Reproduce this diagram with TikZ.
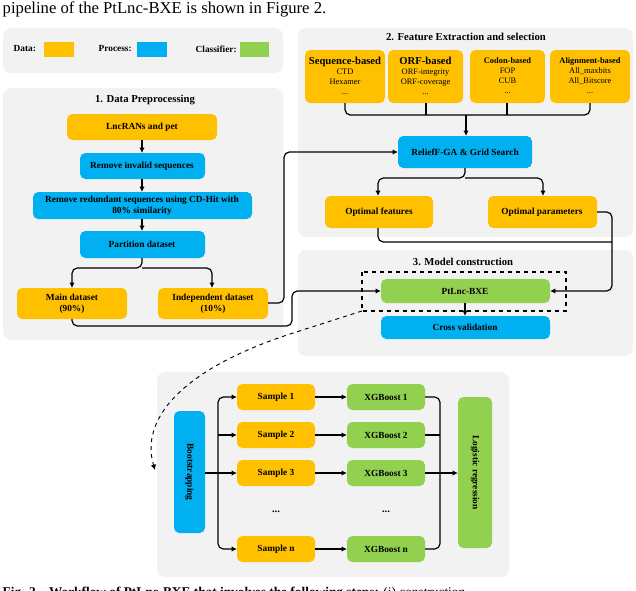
\documentclass[tikz,border=0pt]{standalone}
\usepackage{fontspec}
\setmainfont{Liberation Serif}
\usetikzlibrary{arrows.meta}
\definecolor{cor}{HTML}{FFC000}
\definecolor{cbl}{HTML}{00B0F0}
\definecolor{cgr}{HTML}{92D050}
\definecolor{cpan}{HTML}{F2F2F2}
\begin{document}
\begin{tikzpicture}[x=0.75pt,y=-0.75pt,
 pan/.style={fill=cpan,draw=none,rounded corners=6pt},
 bx/.style={draw=none,rounded corners=4pt,align=center,font=\fontsize{7}{8}\selectfont\bfseries},
 ln/.style={line width=0.9pt,rounded corners=4pt},
 ar/.style={ln,-{Latex[length=4pt,width=4pt]}},
 ttl/.style={font=\fontsize{8}{9}\selectfont\bfseries}]
\useasboundingbox (0,0) rectangle (636,590);
\begin{scope}
\clip (0,0) rectangle (636,590);
\node[anchor=west,font=\fontsize{12.5}{14}\selectfont] (top) at (-2,9) {pipeline of the PtLnc-BXE is shown in Figure 2.};
\node[anchor=west,font=\fontsize{10}{12}\selectfont\bfseries] (cap) at (-2,593) {Fig. 2\quad Workflow of PtLnc-BXE that involves the following steps: \mdseries(i) construction};
\end{scope}
% panels
\fill[pan] (3,28) rectangle (283,73);
\fill[pan] (3,88) rectangle (283,340);
\fill[pan] (298,28) rectangle (633,237);
\fill[pan] (298,250) rectangle (633,356);
\fill[pan] (157,372) rectangle (509,577);
% legend
\node[anchor=west,font=\fontsize{7}{8}\selectfont\bfseries] (ld) at (9,49) {Data:};
\fill[cor] (44,42) rectangle (74,57);
\node[anchor=west,font=\fontsize{7}{8}\selectfont\bfseries] (lp) at (94,49) {Process:};
\fill[cbl] (137,42) rectangle (167,57);
\node[anchor=west,font=\fontsize{7}{8}\selectfont\bfseries] (lc) at (191,49) {Classifier:};
\fill[cgr] (240,42) rectangle (269,57);
% section 1
\node[ttl] (t1) at (145,100) {1. Data Preprocessing};
\fill[cor,rounded corners=4pt] (67,114) rectangle (217,140);
\node[bx] (n1) at (142,127) {LncRANs and pet};
\fill[cbl,rounded corners=4pt] (80,153) rectangle (205,179);
\node[bx] (n2) at (142,166) {Remove invalid sequences};
\fill[cbl,rounded corners=4pt] (33,192) rectangle (252,219);
\node[bx] (n3) at (142,205.5) {Remove redundant sequences using CD-Hit with\\80\% similarity};
\fill[cbl,rounded corners=4pt] (80,231) rectangle (205,258);
\node[bx] (n4) at (142,244.5) {Partition dataset};
\fill[cor,rounded corners=4pt] (17,288) rectangle (127,319);
\node[bx] (n5) at (72,303.5) {Main dataset\\(90\%)};
\fill[cor,rounded corners=4pt] (158,288) rectangle (268,319);
\node[bx] (n6) at (213,303.5) {Independent dataset\\(10\%)};
\draw[ar] (142,140) -- (142,153);
\draw[ar] (142,179) -- (142,192);
\draw[ar] (142,219) -- (142,231);
\draw[ar] (142,258) -- (142,268) -- (72,268) -- (72,288);
\draw[ar] (142,268) -- (212,268) -- (212,288);
% section 2
\node[ttl] (t2) at (466,37) {2. Feature Extraction and selection};
\foreach \x/\y/\n/\a/\b/\c in {305/385/s1/{\fontsize{8}{9}\selectfont Sequence-based}/CTD/Hexamer,388/463/s2/{\fontsize{8}{9}\selectfont ORF-based}/ORF-integrity/ORF-coverage,470/545/s3/Codon-based/FOP/CUB,550/630/s4/Alignment-based/All\_maxbits/All\_Bitscore}{
 \fill[cor,rounded corners=4pt] (\x,50) rectangle (\y,103);
 \node[bx,font=\fontsize{6.3}{7.5}\selectfont] (\n) at ({(\x+\y)/2},76) {\textbf{\a}\\\mdseries\b\\\mdseries\c\\\mdseries ...};
}
\draw[ln] (345,103) -- (345,115) -- (466,115);
\draw[ln] (426,103) -- (426,115);
\draw[ln] (507,103) -- (507,115);
\draw[ln] (590,103) -- (590,115) -- (466,115);
\draw[ar,rounded corners=0pt] (466,115) -- (466,136);
\fill[cbl,rounded corners=4pt] (398,136) rectangle (532,168);
\node[bx] (rg) at (465,152) {ReliefF-GA \& Grid Search};
\draw[ar] (465,168) -- (465,178) -- (378,178) -- (378,196);
\draw[ar] (465,178) -- (543,178) -- (543,196);
\fill[cor,rounded corners=4pt] (325,196) rectangle (433,228);
\node[bx] (of) at (379,212) {Optimal features};
\fill[cor,rounded corners=4pt] (488,196) rectangle (597,228);
\node[bx] (op) at (542,212) {Optimal parameters};
% section 3
\node[ttl] (t3) at (463,262) {3. Model construction};
\draw[dashed,line width=0.8pt] (362,272) rectangle (566,311);
\fill[cgr,rounded corners=4pt] (381,279) rectangle (550,303);
\node[bx] (pt) at (465,291) {PtLnc-BXE};
\fill[cbl,rounded corners=4pt] (381,316) rectangle (550,339);
\node[bx] (cv) at (465,327.5) {Cross validation};
\draw[ar,rounded corners=0pt] (465,303) -- (465,316);
% connectors
\draw[ar] (268,303) -- (284,303) -- (284,152) -- (398,152);
\draw[ar] (72,319) -- (72,326) -- (292,326) -- (292,291) -- (381,291);
\draw[ln] (378,228) -- (378,242) -- (612,242);
\draw[ar] (597,212) -- (612,212) -- (612,291) -- (550,291);
\draw[dashed,line width=0.7pt,-{Latex[length=4pt,width=4pt]}] (362,311) -- (290,334) .. controls (180,370) and (140,420) .. (155,470);
% section 4
\fill[cbl,rounded corners=4pt] (174,411) rectangle (205,533);
\node[bx,rotate=-90] (bs) at (189.5,472) {Bootstrapping};
\fill[cgr,rounded corners=4pt] (458,397) rectangle (492,548);
\node[bx,rotate=-90] (lr) at (475,472.5) {Logistic regression};
\draw[ln] (205,473) -- (218,473);
\foreach \y/\n in {397/1,435/2,473/3,549/n}{
 \fill[cor,rounded corners=4pt] (237,{\y-13}) rectangle (315,{\y+13});
 \node[bx] (sa\n) at (276,\y) {Sample \n};
 \fill[cgr,rounded corners=4pt] (347,{\y-13}) rectangle (425,{\y+13});
 \node[bx] (xg\n) at (386,\y) {XGBoost \n};
 \draw[ar] (315,\y) -- (347,\y);
}
\draw[ar] (218,473) -- (218,397) -- (237,397);
\draw[ar] (218,473) -- (218,549) -- (237,549);
\draw[ar,rounded corners=0pt] (218,435) -- (237,435);
\draw[ar,rounded corners=0pt] (218,473) -- (237,473);
\draw[ln] (425,397) -- (440,397) -- (440,549) -- (425,549);
\draw[ln] (425,435) -- (440,435);
\draw[ar,rounded corners=0pt] (425,473) -- (458,473);
\node[font=\fontsize{8}{9}\selectfont\bfseries] (d1) at (276,512) {...};
\node[font=\fontsize{8}{9}\selectfont\bfseries] (d2) at (386,512) {...};
\end{tikzpicture}
\end{document}
